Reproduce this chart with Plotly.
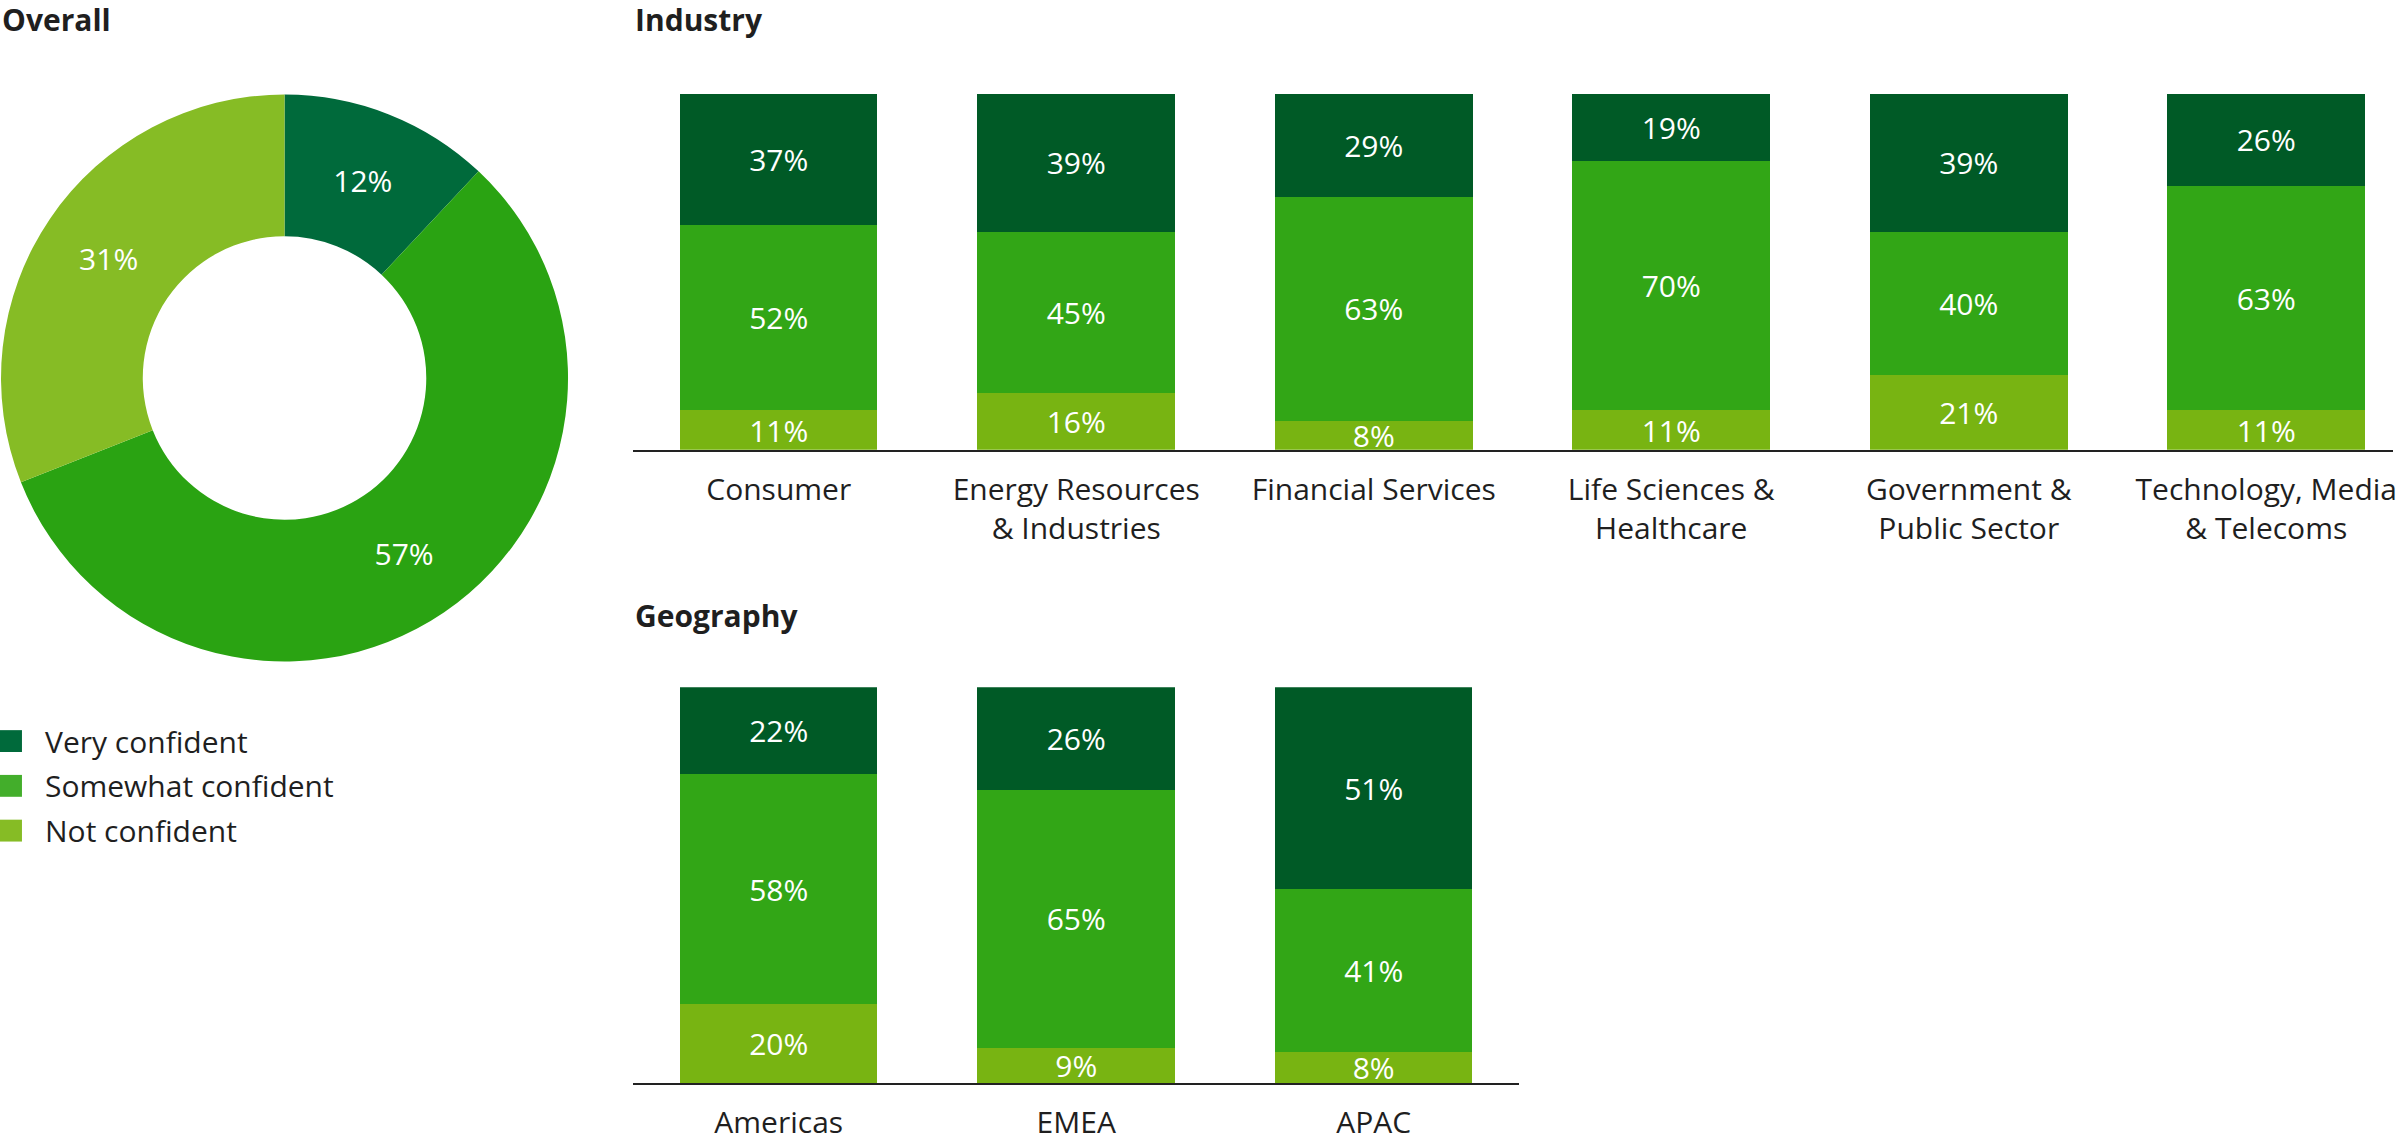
import plotly.graph_objects as go

# ---- data ----
levels = ["Very confident", "Somewhat confident", "Not confident"]
overall_values = [12, 57, 31]

industries = [
    "Consumer",
    "Energy Resources<br>& Industries",
    "Financial Services",
    "Life Sciences &<br>Healthcare",
    "Government &<br>Public Sector",
    "Technology, Media<br>& Telecoms",
]
industry_very = [37, 39, 29, 19, 39, 26]
industry_somewhat = [52, 45, 63, 70, 40, 63]
industry_not = [11, 16, 8, 11, 21, 11]

regions = ["Americas", "EMEA", "APAC"]
region_very = [22, 26, 51]
region_somewhat = [58, 65, 41]
region_not = [20, 9, 8]

# ---- styling ----
W, H = 2397, 1142
FONT = "Open Sans"
TEXT_DARK = "#1f1f1f"
DARK = "#005a26"
MID = "#32a616"
LIGHT = "#78b412"
PIE_COLORS = ["#006a3b", "#2aa312", "#86bc25"]
SWATCH_COLORS = ["#006a3b", "#43ae2b", "#86bc25"]


def px_x(x):
    return x / W


def px_y(y):
    return 1 - y / H


fig = go.Figure()

# donut for the overall split
fig.add_trace(go.Pie(
    labels=levels,
    values=overall_values,
    hole=0.5,
    sort=False,
    direction="clockwise",
    rotation=0,
    marker=dict(colors=PIE_COLORS, line=dict(width=0)),
    texttemplate="%{value}%",
    textposition="inside",
    insidetextorientation="horizontal",
    textfont=dict(family=FONT, size=30, color="white"),
    domain=dict(x=[0, px_x(570)], y=[px_y(665), px_y(95)]),
    showlegend=False,
    hoverinfo="label+percent",
))


def add_stack(cats, not_vals, some_vals, very_vals, xa, ya):
    for vals, color, name in ((not_vals, LIGHT, levels[2]),
                              (some_vals, MID, levels[1]),
                              (very_vals, DARK, levels[0])):
        fig.add_trace(go.Bar(
            x=cats,
            y=vals,
            name=name,
            marker=dict(color=color, line=dict(width=0)),
            text=[f"{v}%" for v in vals],
            textposition="inside",
            insidetextanchor="middle",
            textangle=0,
            textfont=dict(family=FONT, size=30, color="white"),
            xaxis=xa,
            yaxis=ya,
            showlegend=False,
        ))


add_stack(industries, industry_not, industry_somewhat, industry_very, "x", "y")
add_stack(regions, region_not, region_somewhat, region_very, "x2", "y2")

axis_common = dict(
    type="category",
    showgrid=False,
    zeroline=False,
    showline=True,
    linecolor="#222222",
    linewidth=2,
    ticks="",
    ticklabelstandoff=12,
    tickfont=dict(family=FONT, size=30, color=TEXT_DARK),
    fixedrange=True,
)
yaxis_common = dict(visible=False, range=[0, 100], fixedrange=True)

x0 = px_x(634)
fig.update_layout(
    width=W,
    height=H,
    margin=dict(l=0, r=0, t=0, b=0),
    paper_bgcolor="white",
    plot_bgcolor="white",
    font=dict(family=FONT, color=TEXT_DARK),
    barmode="stack",
    bargap=0.336,
    uniformtext=dict(minsize=30, mode="show"),
    xaxis=dict(axis_common, domain=[x0, 1], range=[-0.49, 5.426], anchor="y"),
    yaxis=dict(yaxis_common, domain=[px_y(452), px_y(94)], anchor="x"),
    xaxis2=dict(axis_common, domain=[x0, px_x(1522)], range=[-0.49, 2.49], anchor="y2"),
    yaxis2=dict(yaxis_common, domain=[px_y(1089), px_y(691)], anchor="x2"),
)

# section headings
for text, x, y in (("Overall", 0, -3), ("Industry", 634, -3), ("Geography", 634, 596)):
    fig.add_annotation(
        text=f"<b>{text}</b>", xref="paper", yref="paper",
        x=px_x(x), y=px_y(y), xanchor="left", yanchor="top",
        showarrow=False, font=dict(family=FONT, size=30, color=TEXT_DARK),
    )

# legend for the confidence levels
for i, (label, color) in enumerate(zip(levels, SWATCH_COLORS)):
    cy = 745 + i * 45
    fig.add_shape(
        type="rect", xref="paper", yref="paper",
        x0=0, x1=px_x(22), y0=px_y(cy + 11), y1=px_y(cy - 11),
        fillcolor=color, line=dict(width=0),
    )
    fig.add_annotation(
        text=label, xref="paper", yref="paper",
        x=px_x(43), y=px_y(cy), xanchor="left", yanchor="middle",
        showarrow=False, font=dict(family=FONT, size=30, color=TEXT_DARK),
    )

fig.write_html("out.html")
